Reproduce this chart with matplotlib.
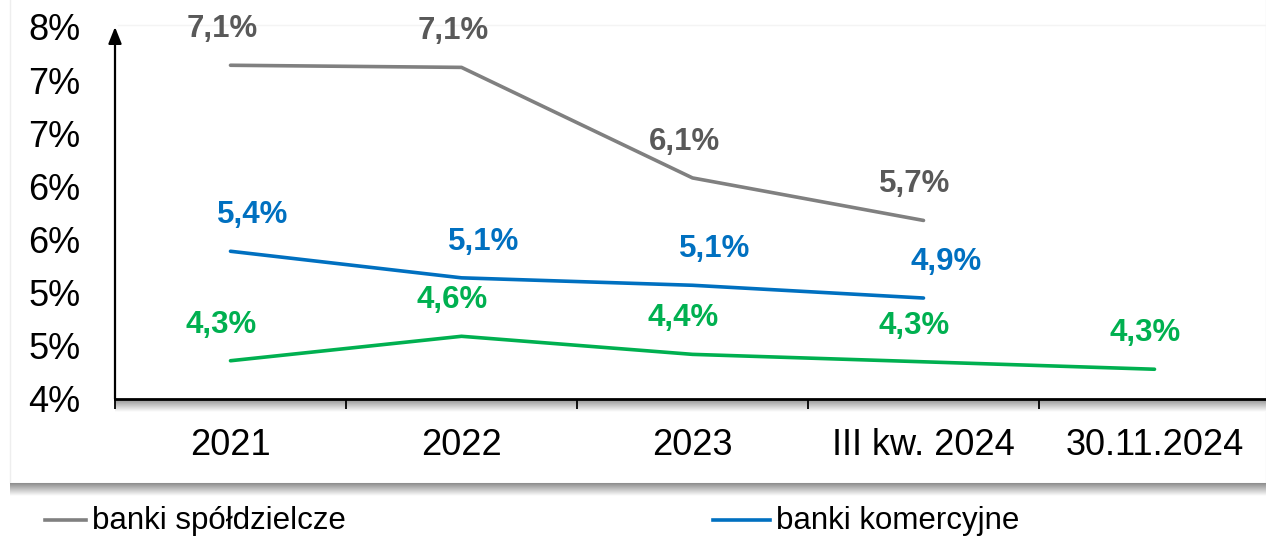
import math
import numpy as np
import matplotlib
matplotlib.use("Agg")
import matplotlib.pyplot as plt
from matplotlib.lines import Line2D
from matplotlib.patches import Rectangle
from matplotlib.ticker import FuncFormatter, FixedLocator

plt.rcParams['font.family'] = ['Liberation Sans', 'DejaVu Sans']

categories = ["2021", "2022", "2023", "III kw. 2024", "30.11.2024"]
spoldzielcze = [7.14, 7.12, 6.08, 5.68]
komercyjne = [5.39, 5.14, 5.07, 4.95]
ogolem = [4.36, 4.59, 4.42, 4.35, 4.28]
lab_spoldzielcze = ["7,1%", "7,1%", "6,1%", "5,7%"]
lab_komercyjne = ["5,4%", "5,1%", "5,1%", "4,9%"]
lab_ogolem = ["4,3%", "4,6%", "4,4%", "4,3%", "4,3%"]
legend_labels = ["banki spółdzielcze", "banki komercyjne"]

GRAY, GRAY_TXT = "#808080", "#595959"
BLUE = "#0070C0"
GREEN = "#00B050"

W, H = 1266, 539
fig = plt.figure(figsize=(W / 100, H / 100), dpi=100)
fig.patch.set_facecolor("white")

def fx(px):
    return px / W

def fy(py):
    return 1 - py / H

# panel shadow (bottom)
sh = fig.add_axes([fx(10), fy(496), 1 - fx(10), (496 - 483) / H])
grad = np.linspace(0.55, 1.0, 50).reshape(-1, 1)
sh.imshow(np.dstack([grad, grad, grad]), aspect="auto", extent=[0, 1, 0, 1])
sh.set_axis_off()
# panel
fig.add_artist(Rectangle((fx(10), fy(483)), 1 - fx(10), fy(0) - fy(483) + 0.01,
                         transform=fig.transFigure, facecolor="white",
                         edgecolor="#eeeeee", linewidth=1.0, zorder=0))
# faint top border of plot area
fig.add_artist(Line2D([fx(118), 1], [fy(25), fy(25)], transform=fig.transFigure,
                      color="#f4f4f4", linewidth=1.0, zorder=0.5))

# x-axis shadow
xs = fig.add_axes([fx(115), fy(412), 1 - fx(115), (412 - 400) / H])
grad2 = np.linspace(0.6, 1.0, 50).reshape(-1, 1)
xs.imshow(np.dstack([grad2, grad2, grad2]), aspect="auto", extent=[0, 1, 0, 1])
xs.set_axis_off()

left, right = 115, 1270
ax = fig.add_axes([fx(left), fy(399), (right - left) / W, (399 - 27) / H])
ax.set_zorder(3)
ax.set_facecolor("none")
ax.set_xlim(-0.5, 4.5)
ax.set_ylim(4.0, 7.5)

x = np.arange(len(categories))
lw = 2.6
ax.plot(x[:len(spoldzielcze)], spoldzielcze, color=GRAY, lw=lw, solid_capstyle="round", clip_on=False)
ax.plot(x[:len(komercyjne)], komercyjne, color=BLUE, lw=lw, solid_capstyle="round", clip_on=False)
ax.plot(x[:len(ogolem)], ogolem, color=GREEN, lw=lw, solid_capstyle="round", clip_on=False)

def labels(vals, texts, color, dx):
    for xi, v, t in zip(x, vals, texts):
        ax.annotate(t, (xi, v), xytext=(dx, 26), textcoords="offset points",
                    ha="center", va="center", fontsize=22.5, fontweight="bold",
                    color=color, annotation_clip=False)

labels(spoldzielcze, lab_spoldzielcze, GRAY_TXT, -6)
labels(komercyjne, lab_komercyjne, BLUE, 16)
labels(ogolem, lab_ogolem, GREEN, -7)

# axes styling
for s in ["top", "right", "left"]:
    ax.spines[s].set_visible(False)
ax.spines["bottom"].set_linewidth(2.0)
ax.annotate("", xy=(0, 1.0), xycoords="axes fraction", xytext=(0, 0),
            arrowprops=dict(arrowstyle="-|>,head_length=1.0,head_width=0.4",
                            color="black", lw=1.6, shrinkA=0, shrinkB=0))

yt = [4.0, 4.5, 5.0, 5.5, 6.0, 6.5, 7.0, 7.5]
ax.yaxis.set_major_locator(FixedLocator(yt))
ax.yaxis.set_major_formatter(FuncFormatter(lambda v, p: f"{int(math.floor(v + 0.5 + 1e-9))}%"))
ax.tick_params(axis="y", length=0, pad=25, labelsize=26)

ax.set_xticks(x)
ax.set_xticklabels(categories)
ax.set_xticks(np.arange(-0.5, 5.0, 1.0), minor=True)
ax.tick_params(axis="x", which="major", length=0, pad=21, labelsize=26)
ax.tick_params(axis="x", which="minor", length=7, width=1.3, direction="out")

# legend
for (x0, x1, tx), lab, col in zip([(45, 86, 92), (713, 770, 776)], legend_labels, [GRAY, BLUE]):
    fig.add_artist(Line2D([fx(x0), fx(x1)], [fy(520), fy(520)], transform=fig.transFigure,
                          color=col, linewidth=2.6))
    fig.text(fx(tx), fy(521), lab, ha="left", va="center", fontsize=22.5,
             color="black")

fig.savefig("out.png", dpi=100, facecolor="white")
